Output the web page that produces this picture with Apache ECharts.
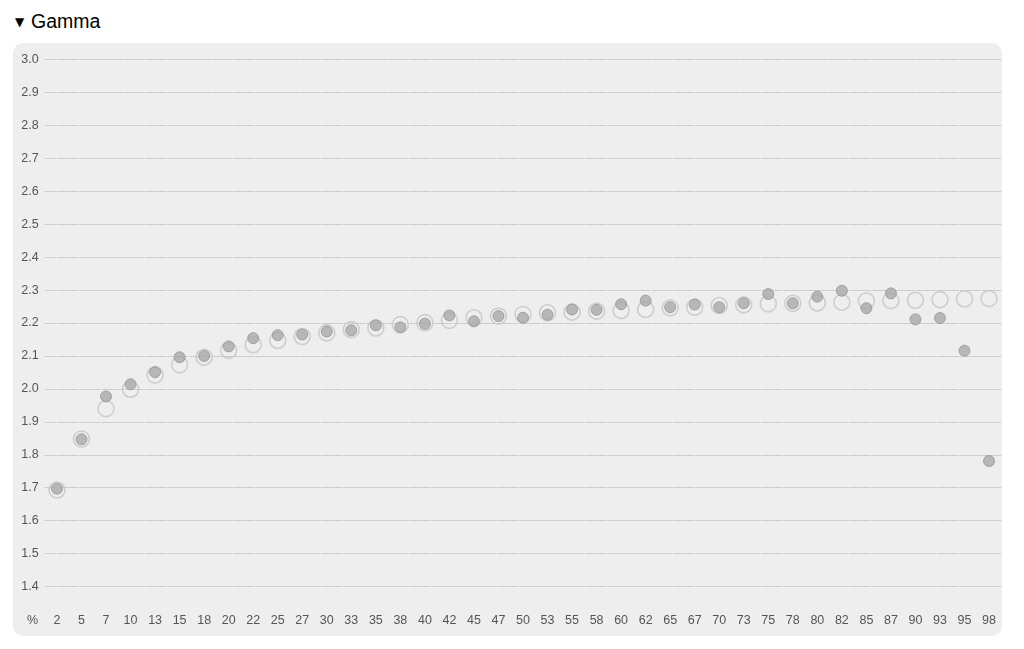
<!DOCTYPE html>
<html>
<head>
<meta charset="utf-8">
<script src="https://cdn.jsdelivr.net/npm/echarts@6/dist/echarts.min.js"></script>
<style>
  html, body { margin: 0; padding: 0; background: #ffffff; }
  #wrap { position: relative; width: 1024px; height: 649px; overflow: hidden; }
  #panel { position: absolute; left: 13px; top: 43px; width: 989px; height: 593px; background: #eeeeee; border-radius: 10px; }
  #title { position: absolute; left: 15px; top: 9px; font-family: "Liberation Sans", Arial, sans-serif; font-size: 19.5px; color: #000; line-height: 24px; white-space: nowrap; }
  #title .tri { font-family: "DejaVu Sans", sans-serif; font-size: 12px; display: inline-block; width: 16px; vertical-align: 2px; }
  #chart { position: absolute; left: 0; top: 0; width: 1024px; height: 649px; }
</style>
</head>
<body>
<div id="wrap">
  <div id="title"><span class="tri">▼</span>Gamma</div>
  <div id="panel"></div>
  <div id="chart"></div>
</div>
<script>
var categories = ['2','5','7','10','13','15','18','20','22','25','27','30','33','35','38','40','42','45','47','50','53','55','58','60','62','65','67','70','73','75','78','80','82','85','87','90','93','95','98'];

var modelValues = [1.693,1.848,1.940,1.999,2.042,2.073,2.096,2.117,2.134,2.147,2.159,2.170,2.180,2.185,2.195,2.201,2.208,2.216,2.221,2.226,2.231,2.233,2.236,2.238,2.241,2.246,2.248,2.253,2.255,2.258,2.260,2.261,2.263,2.267,2.268,2.269,2.271,2.273,2.274];

var measuredValues = [1.697,1.847,1.977,2.014,2.051,2.096,2.100,2.129,2.154,2.163,2.165,2.174,2.178,2.193,2.187,2.198,2.223,2.205,2.221,2.216,2.225,2.241,2.240,2.257,2.268,2.248,2.256,2.248,2.260,2.288,2.260,2.280,2.298,2.245,2.290,2.211,2.215,2.116,1.781];

var axisUnitLabel = '%';

var chart = echarts.init(document.getElementById('chart'), null, { renderer: 'canvas' });
chart.setOption({
  backgroundColor: 'transparent',
  animation: false,
  textStyle: { fontFamily: '"Liberation Sans", Arial, sans-serif' },
  grid: { left: 44.7, right: 22.7, top: 59.5, bottom: 62.5, containLabel: false },
  xAxis: {
    type: 'category',
    data: categories,
    boundaryGap: true,
    axisLine: { show: false },
    axisTick: { show: false },
    splitLine: { show: false },
    axisLabel: { color: '#555', fontSize: 12.5, margin: 28, interval: 0 }
  },
  yAxis: {
    type: 'value',
    min: 1.4,
    max: 3.0,
    interval: 0.1,
    axisLine: { show: false },
    axisTick: { show: false },
    axisLabel: { color: '#555', fontSize: 12.5, margin: 6, formatter: function (v) { return v.toFixed(1); } },
    splitLine: { show: true, lineStyle: { color: '#cdcdcd', width: 1, type: [21, 1], dashOffset: 9 } }
  },
  graphic: [
    { type: 'text', left: 27, top: 614, style: { text: axisUnitLabel, fill: '#555', font: '12.5px "Liberation Sans", Arial, sans-serif' } }
  ],
  series: [
    {
      type: 'scatter',
      name: 'model',
      data: modelValues,
      symbol: 'circle',
      symbolSize: 16,
      z: 2,
      itemStyle: { color: 'rgba(238,238,238,0)', borderColor: '#c6c6c6', borderWidth: 1.6 },
      emphasis: { disabled: true }
    },
    {
      type: 'scatter',
      name: 'measured',
      data: measuredValues,
      symbol: 'circle',
      symbolSize: 11,
      z: 3,
      itemStyle: { color: '#a9a9a9', borderColor: '#959595', borderWidth: 1 },
      emphasis: { disabled: true }
    }
  ]
});
</script>
</body>
</html>
